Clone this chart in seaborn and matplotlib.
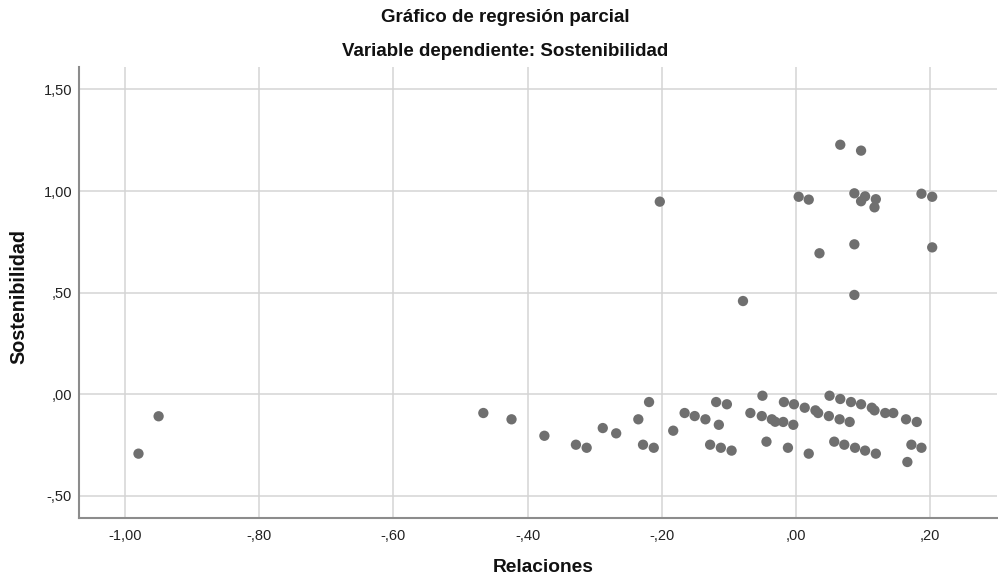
import matplotlib
matplotlib.use("Agg")
import matplotlib.pyplot as plt
import seaborn as sns
import pandas as pd

relaciones = [-0.980, -0.950, -0.466, -0.424, -0.375, -0.328, -0.312, -0.288, -0.268,
              -0.235, -0.219, -0.228, -0.212, -0.203, -0.183, -0.166, -0.151, -0.135,
              -0.115, -0.119, -0.103, -0.128, -0.112, -0.096, -0.079,
              -0.050, -0.068, -0.051, -0.036, -0.031, -0.019, -0.004, -0.018, -0.003,
              0.013, 0.029, 0.033, 0.049, 0.065, 0.080, 0.050, 0.066, 0.082, 0.097,
              0.113, 0.117, 0.133, 0.145, 0.164, 0.180, -0.044, -0.012, 0.019, 0.057,
              0.072, 0.088, 0.103, 0.119, 0.172, 0.187, 0.166,
              0.066, 0.097, 0.004, 0.019, 0.087, 0.103, 0.097, 0.119, 0.117, 0.187,
              0.203, 0.035, 0.087, 0.203, 0.087]
sostenibilidad = [-0.292, -0.108, -0.092, -0.123, -0.204, -0.248, -0.263, -0.166, -0.192,
                  -0.123, -0.038, -0.248, -0.263, 0.948, -0.179, -0.092, -0.107, -0.123,
                  -0.150, -0.038, -0.049, -0.248, -0.263, -0.277, 0.459,
                  -0.007, -0.092, -0.107, -0.123, -0.135, -0.136, -0.150, -0.038, -0.049,
                  -0.066, -0.079, -0.092, -0.107, -0.123, -0.136, -0.007, -0.023, -0.038, -0.049,
                  -0.066, -0.079, -0.092, -0.092, -0.123, -0.136, -0.233, -0.263, -0.292, -0.233,
                  -0.248, -0.263, -0.277, -0.292, -0.248, -0.263, -0.333,
                  1.228, 1.199, 0.972, 0.958, 0.989, 0.974, 0.950, 0.960, 0.920, 0.987,
                  0.972, 0.694, 0.738, 0.723, 0.489]

x_ticks = [-1.0, -0.8, -0.6, -0.4, -0.2, 0.0, 0.2]
x_tick_labels = ["-1,00", "-,80", "-,60", "-,40", "-,20", ",00", ",20"]
y_ticks = [-0.5, 0.0, 0.5, 1.0, 1.5]
y_tick_labels = ["-,50", ",00", ",50", "1,00", "1,50"]

df = pd.DataFrame({"Relaciones": relaciones, "Sostenibilidad": sostenibilidad})

sns.set_theme(style="white")
plt.rcParams["font.family"] = ["Liberation Sans", "DejaVu Sans"]

fig = plt.figure(figsize=(9.98, 5.8), dpi=100)
ax = fig.add_axes([0.0792, 0.1064, 0.9198, 0.7786])

sns.scatterplot(data=df, x="Relaciones", y="Sostenibilidad", ax=ax,
                color="#6f6f6f", s=55, edgecolor="none", zorder=3)

ax.set_xlim(-1.0686, 0.2996)
ax.set_ylim(-0.610, 1.612)
ax.set_xticks(x_ticks)
ax.set_xticklabels(x_tick_labels)
ax.set_yticks(y_ticks)
ax.set_yticklabels(y_tick_labels)
ax.tick_params(axis="both", length=0, labelsize=10.5, colors="#222222")
ax.tick_params(axis="x", pad=8)
ax.tick_params(axis="y", pad=5)
ax.grid(True, color="#d4d4d4", linewidth=1.1)
ax.set_axisbelow(True)
for side in ["top", "right"]:
    ax.spines[side].set_visible(False)
for side in ["left", "bottom"]:
    ax.spines[side].set_color("#8c8c8c")
    ax.spines[side].set_linewidth(1.5)

ax.set_xlabel("")
ax.set_ylabel("")
fig.text(543 / 998, 1 - 568 / 580, "Relaciones", ha="center", va="center",
         fontsize=13.8, fontweight="bold", color="#111111")
fig.text(19 / 998, 1 - 297 / 580, "Sostenibilidad", ha="center", va="center",
         rotation=90, fontsize=14.2, fontweight="bold", color="#111111")
fig.text(505 / 998, 1 - 17 / 580, "Gráfico de regresión parcial", ha="center", va="center",
         fontsize=13.5, fontweight="bold", color="#111111")
fig.text(505 / 998, 1 - 52 / 580, "Variable dependiente: Sostenibilidad", ha="center",
         va="center", fontsize=13.5, fontweight="bold", color="#111111")

fig.savefig("out.png", dpi=100)
